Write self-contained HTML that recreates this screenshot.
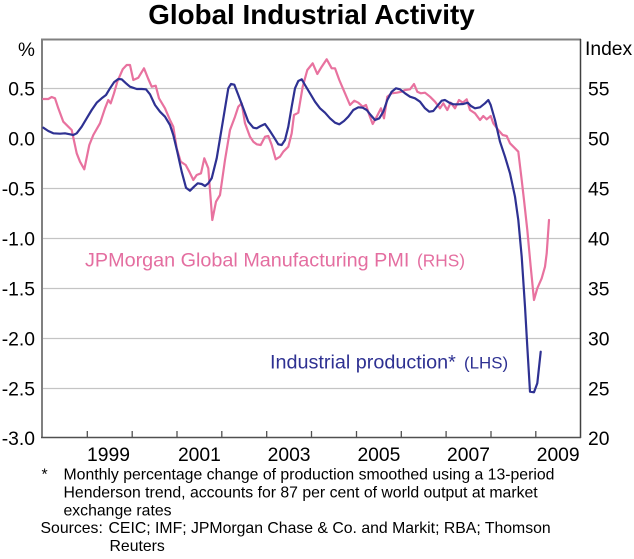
<!DOCTYPE html>
<html>
<head>
<meta charset="utf-8">
<style>
  html, body { margin: 0; padding: 0; background: #ffffff; }
  svg { display: block; }
  text { font-family: "Liberation Sans", Arial, sans-serif; }
</style>
</head>
<body>
<svg width="634" height="559" viewBox="0 0 634 559" xmlns="http://www.w3.org/2000/svg">
  <rect x="0" y="0" width="634" height="559" fill="#ffffff"/>

  <!-- Title -->
  <text x="311.5" y="24" font-size="27.8" font-weight="bold" text-anchor="middle" fill="#000">Global Industrial Activity</text>

  <!-- Gridlines -->
  <g stroke="#c4c4c4" stroke-width="1.3">
    <line x1="43" y1="88.5" x2="580" y2="88.5"/>
    <line x1="43" y1="138.5" x2="580" y2="138.5"/>
    <line x1="43" y1="188.5" x2="580" y2="188.5"/>
    <line x1="43" y1="238.5" x2="580" y2="238.5"/>
    <line x1="43" y1="288.5" x2="580" y2="288.5"/>
    <line x1="43" y1="338.5" x2="580" y2="338.5"/>
    <line x1="43" y1="388.5" x2="580" y2="388.5"/>
  </g>

  <!-- Frame -->
  <line x1="41" y1="39.5" x2="581" y2="39.5" stroke="#808080" stroke-width="2"/>
  <line x1="42" y1="39" x2="42" y2="438" stroke="#808080" stroke-width="2"/>
  <line x1="580.5" y1="39" x2="580.5" y2="438" stroke="#404040" stroke-width="1.5"/>
  <line x1="41" y1="437.5" x2="581" y2="437.5" stroke="#505050" stroke-width="1.6"/>

  <!-- X ticks -->
  <g stroke="#505050" stroke-width="1.3">
    <line x1="87.3" y1="437" x2="87.3" y2="431"/>
    <line x1="132.2" y1="437" x2="132.2" y2="431"/>
    <line x1="177.0" y1="437" x2="177.0" y2="431"/>
    <line x1="221.8" y1="437" x2="221.8" y2="431"/>
    <line x1="266.7" y1="437" x2="266.7" y2="431"/>
    <line x1="311.5" y1="437" x2="311.5" y2="431"/>
    <line x1="356.5" y1="437" x2="356.5" y2="431"/>
    <line x1="401.3" y1="437" x2="401.3" y2="431"/>
    <line x1="446.1" y1="437" x2="446.1" y2="431"/>
    <line x1="491.0" y1="437" x2="491.0" y2="431"/>
    <line x1="535.8" y1="437" x2="535.8" y2="431"/>
  </g>

  <!-- Axis unit labels -->
  <text x="18" y="56" font-size="19" fill="#000">%</text>
  <text x="585" y="55" font-size="19.3" fill="#000">Index</text>

  <!-- Left tick labels -->
  <g font-size="19.3" fill="#000" text-anchor="end">
    <text x="35" y="95.5">0.5</text>
    <text x="35" y="145.5">0.0</text>
    <text x="35" y="195.5">-0.5</text>
    <text x="35" y="245.5">-1.0</text>
    <text x="35" y="295.5">-1.5</text>
    <text x="35" y="345.5">-2.0</text>
    <text x="35" y="395.5">-2.5</text>
    <text x="35" y="445">-3.0</text>
  </g>

  <!-- Right tick labels -->
  <g font-size="19.3" fill="#000">
    <text x="588" y="95.5">55</text>
    <text x="588" y="145.5">50</text>
    <text x="588" y="195.5">45</text>
    <text x="588" y="245.5">40</text>
    <text x="588" y="295.5">35</text>
    <text x="588" y="345.5">30</text>
    <text x="588" y="395.5">25</text>
    <text x="588" y="445">20</text>
  </g>

  <!-- X labels -->
  <g font-size="19.3" fill="#000" text-anchor="middle">
    <text x="108.5" y="461">1999</text>
    <text x="199.4" y="461">2001</text>
    <text x="289.1" y="461">2003</text>
    <text x="378.9" y="461">2005</text>
    <text x="468.5" y="461">2007</text>
    <text x="558.2" y="461">2009</text>
  </g>

  <!-- PMI series (RHS) -->
  <polyline fill="none" stroke="#e8729f" stroke-width="2.2" stroke-linejoin="round" stroke-linecap="round"
    points="43.3,99 48.3,99 51.7,97 55,98.3 58.3,108.3 63.3,121.7 68.3,126.7 71.7,130 76.7,153.3 80,161.7 84.3,169.3 89.3,145 93.3,135 100,123.3 105,108.3 108.3,100 110.7,103.3 114,93.3 117.3,81.7 122.7,69.3 126.7,65 130,65 133.3,80 138.3,77.7 144,68.3 148.3,79 151.7,86.7 155.7,85.7 159,98.3 165,108.3 170,120 173.3,126.7 176.7,148.3 180.7,161.7 185.7,165 189.3,171.7 193.3,180 196.7,175 201,173.3 204.3,158.3 208.3,168.3 212.3,220 216,201.7 220,195 225,160 230,130 235,116.7 238.3,106.7 241.7,103.3 245,123.3 250,136.7 253.3,141.7 256.7,144.3 260.7,145 265,136.7 268.3,136 271.7,145 275.7,159.3 280,156.7 283.3,151.7 288.3,146.7 291.7,133.3 294,115 298.3,112.7 302.7,86.7 307.3,70 312.7,63.3 317.3,74 321.7,66.7 326.7,59.3 331.7,68.3 335,68.3 339.3,80 345,93.3 350,105 354.3,100.7 358.3,102.7 362.7,106.7 366,105 369.3,115 372.7,124 376.7,116.7 381,108.3 384,118.3 387.3,96.7 391.7,93.3 396.7,92.7 401.7,91.7 405,90 410,89.3 414,84 417.3,91.7 420.7,93.3 425,92.7 430,96.7 435,101.7 440,108.3 443.3,103.3 447.3,110 450.7,102.7 455,108.3 459,100 462.7,102.7 466.7,99.3 470,110 475,113.3 480,120 483.3,116 486.7,119.3 490.7,116 493.3,123.3 498.3,130 502.7,135 506.7,136 510,143.3 515,148.3 518.3,151.7 521.7,180 524,200 527.3,230 530.7,266.7 534,300 537.3,288.3 541.7,278.3 545,266.7 546.7,253.3 549,220"/>

  <!-- Industrial production series (LHS) -->
  <polyline fill="none" stroke="#2e3192" stroke-width="2.2" stroke-linejoin="round" stroke-linecap="round"
    points="43.3,127.7 48.3,131 53.3,133.3 60,133.7 65,133.3 70,134.3 73.3,135 76.7,133.3 81.7,126.7 86.7,118.3 91.7,110 96.7,102.7 101.7,98.3 106,95 110,88.3 114,82.3 118.3,79 121.7,79.3 126,83.3 130,86.7 136.7,89 141.7,89 146,89.3 150,94.3 155,105 160,111.7 165,116.7 170,125 173.3,135 177.3,151.7 181.7,171.7 186,187.7 190,190.7 194,186.7 197.7,183.3 201.7,184 205,186 208.3,183.3 211.7,178.3 216.7,158.3 221.7,128.3 225,108.3 228.3,88.3 231,84 234.3,84.7 238.3,95 243.3,108.3 248.3,121.7 253.3,127.7 256.7,128.3 260.7,126 265,124 269.3,130 274,137.3 278.3,144.3 281.7,145 285,140 288.3,126.7 291.7,106.7 295,88.3 298.3,81 301.7,79.3 305,85 310,93.3 315,101.7 320,108.3 325,112.7 330,118.3 335,122.7 339.3,124.3 344,121 348.3,116.7 353.3,110 358.3,107.3 362.7,107.7 366.7,110 370.7,115 375,120 379.3,118.3 383.3,111.7 387.3,100 391.7,91.7 396,88.3 400,89.3 405,93.3 410,96.7 415,98.3 420,101.7 425,108.3 429.3,111.7 433.3,111 437.3,106 441.7,100.7 445,100 449.3,102.7 453.3,104.3 458.3,104.3 463.3,104 467.7,102.7 471,106 475,108.3 480,107.3 485,103.3 488.3,100 490.7,105 495,120 500,141.7 505,156.7 510,173.3 515,196.7 518.3,220 521.7,256.7 525,306.7 527.3,346.7 530,391.7 534,392.3 537.3,383.3 540.7,351.7"/>

  <!-- Series labels -->
  <text x="85" y="266.5" font-size="19.8" fill="#e46ea0">JPMorgan Global Manufacturing PMI<tspan x="417" font-size="17.3">(RHS)</tspan></text>
  <text x="270" y="368.3" font-size="19.8" fill="#2e3192">Industrial production*<tspan x="464" font-size="16.9">(LHS)</tspan></text>

  <!-- Footnotes -->
  <g font-size="15.8" fill="#000">
    <text x="41.5" y="479.5">*</text>
    <text x="63.5" y="479.5">Monthly percentage change of production smoothed using a 13-period</text>
    <text x="63.5" y="497.4">Henderson trend, accounts for 87 per cent of world output at market</text>
    <text x="63.5" y="515.3">exchange rates</text>
    <text x="40.5" y="533.2">Sources:</text>
    <text x="108.5" y="533.2">CEIC; IMF; JPMorgan Chase &amp; Co. and Markit; RBA; Thomson</text>
    <text x="109.5" y="551.1">Reuters</text>
  </g>
</svg>
</body>
</html>
